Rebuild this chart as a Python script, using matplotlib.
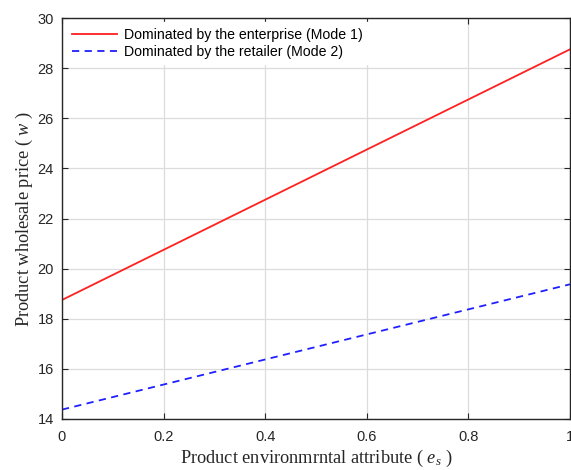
import numpy as np
import matplotlib
matplotlib.use('Agg')
import matplotlib.pyplot as plt

# product environmental attribute
es = [0.0, 1.0]
# wholesale price, mode 1 (enterprise) and mode 2 (retailer)
w_mode1 = [18.75, 28.75]
w_mode2 = [14.375, 19.375]
xticks = [0, 0.2, 0.4, 0.6, 0.8, 1]
yticks = [14, 16, 18, 20, 22, 24, 26, 28, 30]

plt.rcParams['mathtext.fontset'] = 'custom'
plt.rcParams['mathtext.it'] = 'Liberation Serif:italic'
plt.rcParams['mathtext.rm'] = 'Liberation Serif'

fig = plt.figure(figsize=(5.71, 4.70), dpi=100)
ax = fig.add_axes([62/571, 51/470, 508/571, 401/470])

ax.plot(es, w_mode1, '-', color='#ff2020', lw=1.3, label='Dominated by the enterprise (Mode 1)')
ax.plot(es, w_mode2, '--', color='#2020ff', lw=1.3, dashes=(4, 3), label='Dominated by the retailer (Mode 2)')

ax.set_xlim(0, 1)
ax.set_ylim(14, 30)
ax.set_xticks(xticks)
ax.set_xticklabels(['0', '0.2', '0.4', '0.6', '0.8', '1'])
ax.set_yticks(yticks)
ax.grid(True, color='#dcdcdc', lw=0.9)
ax.set_axisbelow(True)
for s in ax.spines.values():
    s.set_color('#262626')
    s.set_linewidth(1.0)
ax.tick_params(direction='in', top=True, right=True, length=4, width=0.8,
               color='#262626', labelcolor='#262626', labelsize=10.5)
ax.tick_params(axis='x', pad=8)
ax.tick_params(axis='y', pad=6)
for t in ax.get_xticklabels() + ax.get_yticklabels():
    t.set_family('Liberation Sans')

ax.set_xlabel(r'Product environmrntal attribute ( $e_s$ )', family='Liberation Serif',
              fontsize=13.2, color='#262626', labelpad=3)
ax.set_ylabel(r'Product wholesale price ( $w$ )', family='Liberation Serif',
              fontsize=13.2, color='#262626', labelpad=2)

leg = ax.legend(loc='upper left', frameon=True, fancybox=False, edgecolor='white',
                framealpha=1, prop={'family': 'Liberation Sans', 'size': 10.2},
                handlelength=3.2, borderaxespad=0.3, labelspacing=0.2, handletextpad=0.5)

fig.savefig('out.png', dpi=100)
